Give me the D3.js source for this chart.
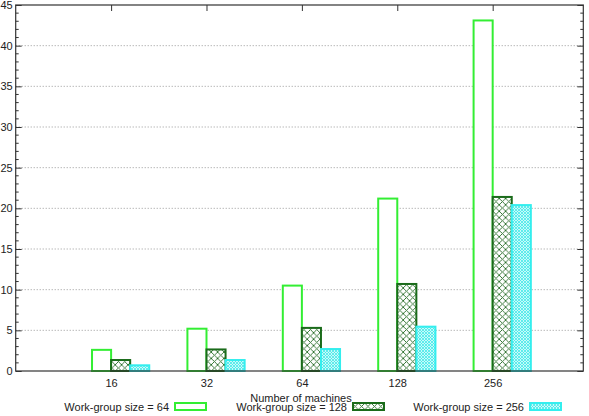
<!DOCTYPE html>
<html>
<head>
<meta charset="utf-8">
<script src="https://cdn.jsdelivr.net/npm/d3@7"></script>
<style>
  html, body { margin: 0; padding: 0; background: #fff; }
  svg text { font-family: "Liberation Sans", Arial, sans-serif; font-size: 11px; fill: #222; }
</style>
</head>
<body>
<svg id="chart" width="589" height="416"></svg>
<script>
// Data
const categories = ["16", "32", "64", "128", "256"];
const wg64 = [2.6, 5.2, 10.5, 21.2, 43.1];
const wg128 = [1.35, 2.65, 5.3, 10.7, 21.4];
const wg256 = [0.7, 1.35, 2.7, 5.45, 20.4];
const seriesNames = ["Work-group size = 64", "Work-group size = 128", "Work-group size = 256"];
const yTicks = [0, 5, 10, 15, 20, 25, 30, 35, 40, 45];

const STYLE = [
  { stroke: "#33ee33", fill: "#fff" },
  { stroke: "#1a6b1a", fill: "url(#hatchDark)" },
  { stroke: "#33eeee", fill: "url(#hatchCyan)" },
];

const plot = { left: 15.7, right: 583.3, top: 5, bottom: 371 };

const svg = d3.select("#chart");

// Fill patterns
const defs = svg.append("defs");
const dark = defs.append("pattern")
  .attr("id", "hatchDark")
  .attr("patternUnits", "userSpaceOnUse")
  .attr("width", 6.4).attr("height", 6.4);
dark.append("rect").attr("width", 6.4).attr("height", 6.4).attr("fill", "#fff");
dark.append("path").attr("d", "M0,0L6.4,6.4M6.4,0L0,6.4")
  .attr("stroke", "#2a6e2a").attr("stroke-width", 0.9);

const cyan = defs.append("pattern")
  .attr("id", "hatchCyan")
  .attr("patternUnits", "userSpaceOnUse")
  .attr("width", 3).attr("height", 3);
cyan.append("rect").attr("width", 3).attr("height", 3).attr("fill", "#c8fafa");
cyan.append("path").attr("d", "M0,0L3,3M3,0L0,3")
  .attr("stroke", "#44e8e8").attr("stroke-width", 0.8);

// Scales
const x = d3.scaleLinear().domain([-1, 4.95]).range([plot.left, plot.right]);
const y = d3.scaleLinear().domain([0, 45]).range([plot.bottom, plot.top]);

// Grid
svg.append("g")
  .selectAll("line")
  .data(yTicks.filter((d) => d > 0 && d < 45))
  .enter()
  .append("line")
  .attr("x1", plot.left).attr("x2", plot.right)
  .attr("y1", (d) => y(d)).attr("y2", (d) => y(d))
  .attr("stroke", "#999")
  .attr("stroke-width", 1)
  .attr("stroke-dasharray", "1,2");

// Bars
const series = [wg64, wg128, wg256];
const barW = 0.2;
series.forEach((vals, s) => {
  svg.append("g")
    .selectAll("rect")
    .data(vals)
    .enter()
    .append("rect")
    .attr("x", (d, i) => x(i + (s - 1) * barW))
    .attr("y", (d) => y(d))
    .attr("width", x(barW) - x(0))
    .attr("height", (d) => y(0) - y(d))
    .attr("fill", STYLE[s].fill)
    .attr("stroke", STYLE[s].stroke)
    .attr("stroke-width", 2);
});

// Border
svg.append("rect")
  .attr("x", plot.left).attr("y", plot.top)
  .attr("width", plot.right - plot.left)
  .attr("height", plot.bottom - plot.top)
  .attr("fill", "none")
  .attr("stroke", "#333")
  .attr("stroke-width", 1.2);

// Y axis (left, inward ticks)
const yAxisL = svg.append("g")
  .attr("transform", `translate(${plot.left},0)`)
  .call(d3.axisLeft(y).tickValues(yTicks).tickSize(-6).tickPadding(4));
yAxisL.select(".domain").remove();
yAxisL.selectAll(".tick line").attr("stroke", "#333");
yAxisL.selectAll(".tick text").attr("font-size", 11).attr("fill", "#222")
  .attr("x", -3).attr("font-family", "Liberation Sans, Arial, sans-serif");

// Y axis mirror (right)
const yAxisR = svg.append("g")
  .attr("transform", `translate(${plot.right},0)`)
  .call(d3.axisRight(y).tickValues(yTicks).tickSize(-6).tickFormat(""));
yAxisR.select(".domain").remove();
yAxisR.selectAll(".tick line").attr("stroke", "#333");

// Minor ticks
const minor = d3.range(0, 46).filter((d) => d % 5 !== 0);
[[plot.left, 3], [plot.right, -3]].forEach(([px, len]) => {
  svg.append("g")
    .selectAll("line")
    .data(minor)
    .enter()
    .append("line")
    .attr("x1", px).attr("x2", px + len)
    .attr("y1", (d) => y(d)).attr("y2", (d) => y(d))
    .attr("stroke", "#333");
});

// X axis tick labels (bottom) and mirror ticks (top)
const xAxis = svg.append("g")
  .attr("transform", `translate(0,${plot.bottom})`)
  .call(d3.axisBottom(x).tickValues(d3.range(categories.length))
    .tickFormat((i) => categories[i]).tickSize(0).tickPadding(8));
xAxis.select(".domain").remove();
xAxis.selectAll(".tick text").attr("font-size", 11).attr("fill", "#222")
  .attr("font-family", "Liberation Sans, Arial, sans-serif");

const xTop = svg.append("g")
  .attr("transform", `translate(0,${plot.top})`)
  .call(d3.axisTop(x).tickValues(d3.range(categories.length)).tickSize(-6).tickFormat(""));
xTop.select(".domain").remove();
xTop.selectAll(".tick line").attr("stroke", "#333");

// X axis title
svg.append("text")
  .attr("x", 301).attr("y", 401.5)
  .attr("text-anchor", "middle")
  .text("Number of machines");

// Legend
const legendX = [175, 353, 530];
seriesNames.forEach((name, s) => {
  svg.append("text")
    .attr("x", legendX[s] - 6).attr("y", 411)
    .attr("text-anchor", "end")
    .text(name);
  svg.append("rect")
    .attr("x", legendX[s]).attr("y", 403)
    .attr("width", 31).attr("height", 7)
    .attr("fill", STYLE[s].fill)
    .attr("stroke", STYLE[s].stroke)
    .attr("stroke-width", 2);
});
</script>
</body>
</html>
